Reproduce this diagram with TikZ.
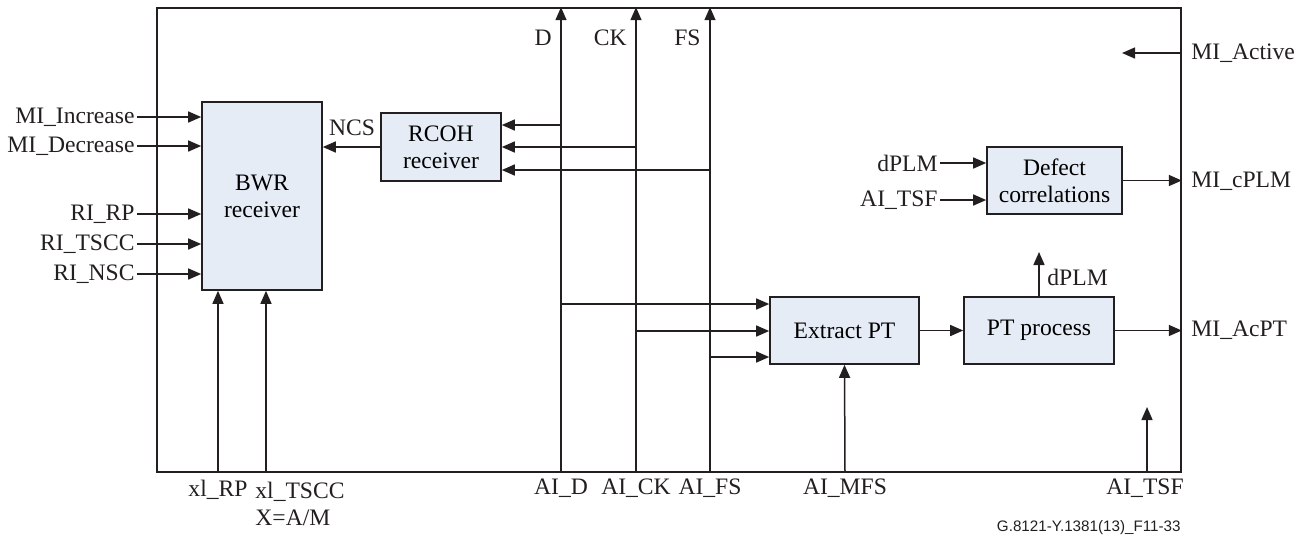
\documentclass[tikz,border=0pt]{standalone}
\usepackage{fontspec}
\setmainfont{Liberation Serif}
\setsansfont{Liberation Sans}
\usetikzlibrary{
  arrows.meta,
  positioning
}
\definecolor{ink}{RGB}{35,31,32}
\definecolor{boxblue}{RGB}{229,236,246}

\begin{document}
\begin{tikzpicture}[
  x=0.5pt, y=-0.5pt,
  font=\fontsize{11.8}{13.5}\selectfont,
  box/.style={
    draw=ink,
    line width=0.8pt,
    fill=boxblue,
    align=center,
    inner sep=0pt
  },
  lbl/.style={inner sep=1pt, text=ink},
  sig/.style={-{Triangle[length=6.5pt,width=5.5pt]}, line width=0.75pt, draw=ink},
  wire/.style={line width=0.75pt, draw=ink}
]
\useasboundingbox (0,0) rectangle (1306,538);
\node[draw=ink, line width=0.8pt, minimum width=512pt, minimum height=232pt, inner sep=0pt] (frame) at (669,240) {};

\node[box, minimum width=60pt, minimum height=94pt] (bwr) at (262,196) {BWR\\receiver};
\node[box, minimum width=60pt, minimum height=34pt] (rcoh) at (441,147) {RCOH\\receiver};
\node[box, minimum width=67.5pt, minimum height=33.5pt] (defect) at (1054.5,180.5) {Defect\\correlations};
\node[box, minimum width=74.5pt, minimum height=33.5pt] (extract) at (844.5,330.5) {Extract PT};
\node[box, minimum width=75pt, minimum height=33.5pt] (ptproc) at (1039,330.5) {PT process};

\node[lbl, anchor=east] (miinc) at (137,117) {MI\_Increase};
\node[lbl, anchor=east] (midec) at (137,146) {MI\_Decrease};
\node[lbl, anchor=east] (rirp) at (137,214) {RI\_RP};
\node[lbl, anchor=east] (ritscc) at (137,244) {RI\_TSCC};
\node[lbl, anchor=east] (rinsc) at (137,274) {RI\_NSC};
\foreach \n in {miinc,midec,rirp,ritscc,rinsc}
  \draw[sig] (\n.east) -- (\n.east -| bwr.west);

\node[lbl] (xlrp) at (218,490) {xl\_RP};
\node[lbl, anchor=north west, align=left] (xltscc) at (253,480) {xl\_TSCC\\X=A/M};
\coordinate (tscccol) at (266,472);
\draw[sig] (xlrp |- frame.south) -- (xlrp |- bwr.south);
\draw[sig] (tscccol) -- (tscccol |- bwr.south);

\node[lbl] (ncs) at (352,128) {NCS};
\draw[sig] (rcoh.west) -- (rcoh.west -| bwr.east);

\node[lbl] (aid) at (561,488) {AI\_D};
\node[lbl] (aick) at (636,488) {AI\_CK};
\node[lbl] (aifs) at (710,488) {AI\_FS};
\node[lbl] (aimfs) at (845,488) {AI\_MFS};
\node[lbl] (aitsf) at (1145,488) {AI\_TSF};
\draw[sig] (aid |- frame.south) -- (aid |- frame.north);
\draw[sig] (aick |- frame.south) -- (aick |- frame.north);
\draw[sig] (aifs |- frame.south) -- (aifs |- frame.north);
\node[lbl, anchor=east] (dtop) at (554,38) {D};
\node[lbl, anchor=east] (cktop) at (629,38) {CK};
\node[lbl, anchor=east] (fstop) at (703,38) {FS};

\coordinate (dtap1) at (561,125);
\coordinate (cktap1) at (636,147);
\coordinate (fstap1) at (710,170);
\coordinate (dtap2) at (561,304);
\coordinate (cktap2) at (636,331);
\coordinate (fstap2) at (710,357);
\foreach \t in {dtap1,cktap1,fstap1}
  \draw[sig] (\t) -- (\t -| rcoh.east);
\foreach \t in {dtap2,cktap2,fstap2}
  \draw[sig] (\t) -- (\t -| extract.west);

\draw[sig] (aimfs |- frame.south) -- (extract.south);
\draw[sig] (extract.east) -- (ptproc.west);
\node[lbl, anchor=west] (miacpt) at (1189,330) {MI\_AcPT};
\draw[sig] (ptproc.east) -- (ptproc.east -| frame.east);
\coordinate (dplmtip) at (1039,252);
\draw[sig] (ptproc.north) -- (dplmtip);
\node[lbl, anchor=west] (dplmout) at (1045,277) {dPLM};

\coordinate (tsfcol) at (1147,472);
\coordinate (tsftip) at (1147,407);
\draw[sig] (tsfcol) -- (tsftip);

\node[lbl, anchor=east] (dplmin) at (940,163) {dPLM};
\node[lbl, anchor=east] (tsfin) at (940,200) {AI\_TSF};
\draw[sig] (dplmin.east) -- (dplmin.east -| defect.west);
\draw[sig] (tsfin.east) -- (tsfin.east -| defect.west);
\node[lbl, anchor=west] (micplm) at (1189,181) {MI\_cPLM};
\draw[sig] (defect.east) -- (defect.east -| frame.east);

\node[lbl, anchor=west] (miact) at (1189,53) {MI\_Active};
\coordinate (acttip) at (1122,53);
\draw[sig] (miact.west -| frame.east) -- (acttip);

\node[lbl, anchor=east, font=\sffamily\fontsize{7.6}{9}\selectfont] (figid) at (1183,528) {G.8121-Y.1381(13)\_F11-33};
\end{tikzpicture}
\end{document}
